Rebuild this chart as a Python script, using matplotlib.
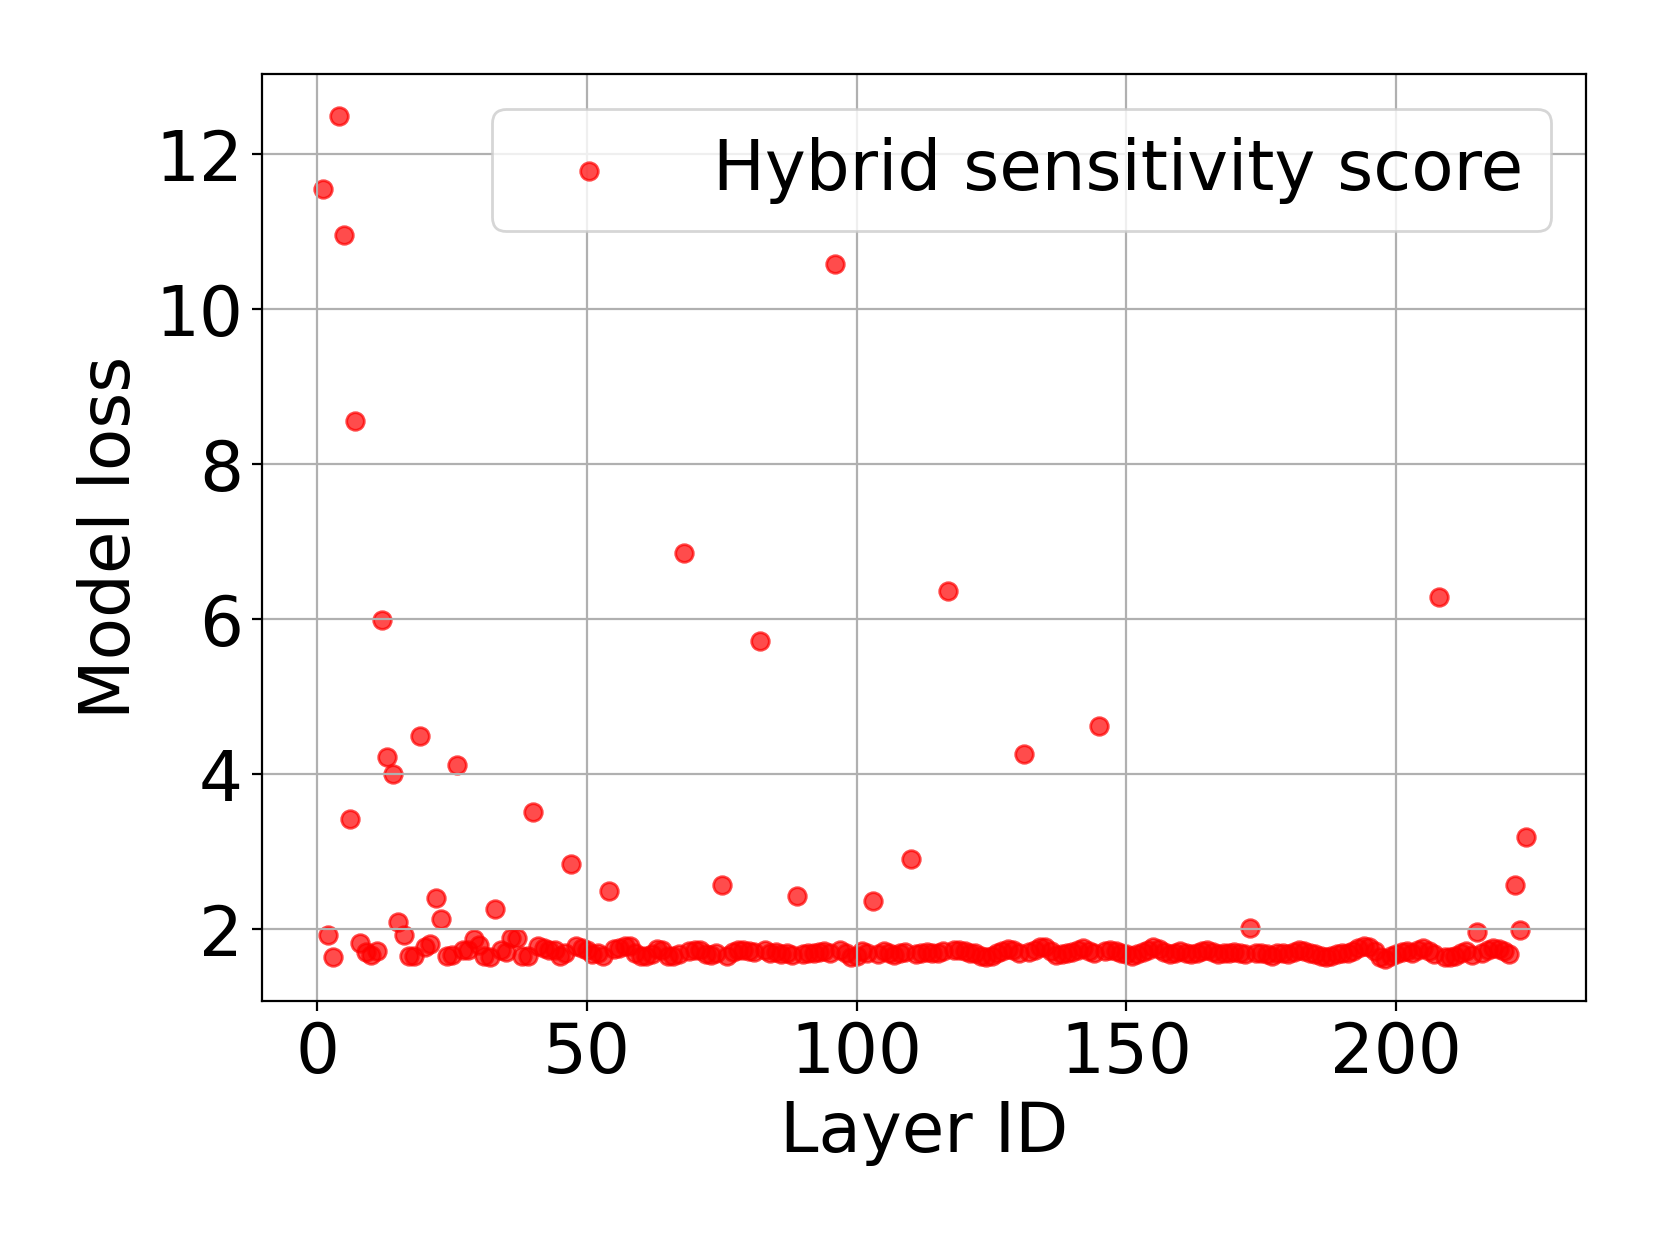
import numpy as np
import matplotlib.pyplot as plt

# layer ids 1..224 and the loss
layer_ids = np.arange(1, 225)
model_loss = [
    11.55, 1.93, 1.65, 12.49, 10.96, 3.42, 8.56, 1.83, 1.71, 1.67,
    1.72, 5.99, 4.22, 4.01, 2.10, 1.93, 1.66, 1.66, 4.49, 1.77,
    1.81, 2.41, 2.13, 1.66, 1.67, 4.12, 1.73, 1.74, 1.88, 1.80,
    1.66, 1.65, 2.27, 1.74, 1.71, 1.89, 1.89, 1.66, 1.66, 3.51,
    1.79, 1.76, 1.74, 1.74, 1.66, 1.70, 2.84, 1.79, 1.76, 1.74,
    1.68, 1.70, 1.66, 2.50, 1.75, 1.76, 1.79, 1.79, 1.70, 1.66,
    1.66, 1.68, 1.75, 1.74, 1.66, 1.66, 1.68, 6.86, 1.72, 1.74,
    1.73, 1.68, 1.67, 1.70, 2.58, 1.66, 1.71, 1.73, 1.74, 1.72,
    1.71, 5.72, 1.73, 1.70, 1.71, 1.68, 1.69, 1.67, 2.43, 1.68,
    1.70, 1.69, 1.71, 1.72, 1.70, 10.58, 1.73, 1.70, 1.65, 1.66,
    1.72, 1.70, 2.37, 1.68, 1.72, 1.69, 1.67, 1.70, 1.71, 2.91,
    1.68, 1.70, 1.71, 1.69, 1.70, 1.72, 6.37, 1.74, 1.73, 1.72,
    1.70, 1.69, 1.66, 1.64, 1.66, 1.69, 1.72, 1.75, 1.73, 1.70,
    4.26, 1.71, 1.74, 1.77, 1.78, 1.72, 1.67, 1.68, 1.70, 1.71,
    1.73, 1.76, 1.72, 1.70, 4.63, 1.72, 1.73, 1.72, 1.70, 1.68,
    1.66, 1.68, 1.71, 1.74, 1.77, 1.75, 1.71, 1.68, 1.69, 1.72,
    1.70, 1.68, 1.70, 1.72, 1.74, 1.71, 1.68, 1.70, 1.69, 1.71,
    1.70, 1.68, 2.02, 1.69, 1.70, 1.68, 1.66, 1.69, 1.70, 1.68,
    1.71, 1.73, 1.72, 1.70, 1.68, 1.66, 1.64, 1.66, 1.68, 1.70,
    1.69, 1.72, 1.76, 1.79, 1.77, 1.72, 1.64, 1.62, 1.66, 1.68,
    1.71, 1.72, 1.70, 1.74, 1.76, 1.72, 1.68, 6.29, 1.65, 1.64,
    1.66, 1.70, 1.72, 1.67, 1.97, 1.70, 1.73, 1.76, 1.75, 1.72,
    1.68, 2.58, 1.99, 3.19,
]

DPI = 200
FS = 24.9

fig = plt.figure(figsize=(1661 / DPI, 1246 / DPI), dpi=DPI)
ax = fig.add_subplot(111)
fig.subplots_adjust(left=0.158, right=0.9547, bottom=0.1966, top=0.9404)

ax.scatter(layer_ids, model_loss, s=40, color='red', alpha=0.7,
           linewidths=1.0, label='Hybrid sensitivity score')

ax.set_xlabel('Layer ID', fontsize=FS)
ax.set_ylabel('Model loss', fontsize=FS)
ax.tick_params(labelsize=FS)
ax.grid(True)
ax.legend(fontsize=FS, loc='upper right')

fig.savefig('out.png', dpi=DPI)
